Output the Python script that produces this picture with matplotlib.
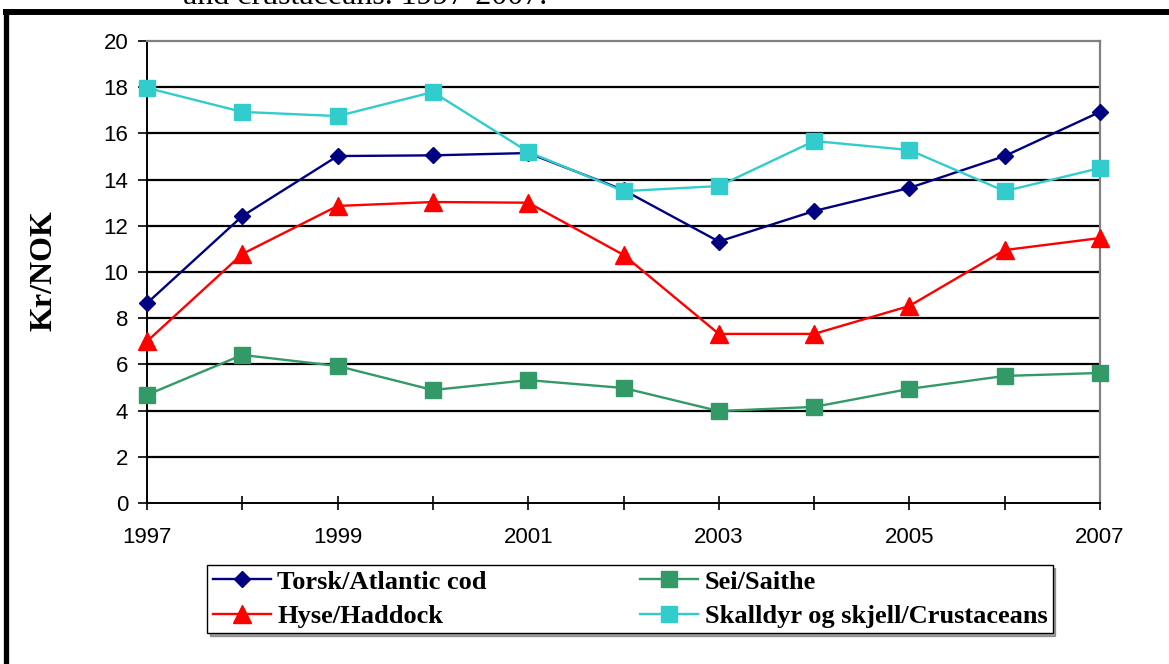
import matplotlib
matplotlib.use("Agg")
import matplotlib.pyplot as plt
from matplotlib.lines import Line2D

years = [1997, 1998, 1999, 2000, 2001, 2002, 2003, 2004, 2005, 2006, 2007]
torsk = [8.65, 12.42, 15.02, 15.05, 15.15, 13.55, 11.32, 12.64, 13.64, 15.02, 16.93]
hyse = [7.0, 10.78, 12.86, 13.03, 13.0, 10.74, 7.32, 7.32, 8.53, 10.95, 11.47]
sei = [4.68, 6.41, 5.93, 4.89, 5.32, 4.98, 3.98, 4.16, 4.94, 5.5, 5.63]
skalldyr = [17.97, 16.93, 16.75, 17.79, 15.2, 13.5, 13.72, 15.67, 15.28, 13.5, 14.5]

labels = ["Torsk/Atlantic cod", "Hyse/Haddock", "Sei/Saithe",
          "Skalldyr og skjell/Crustaceans"]
x_tick_labels = ["1997", "", "1999", "", "2001", "", "2003", "", "2005", "", "2007"]
y_ticks = [0, 2, 4, 6, 8, 10, 12, 14, 16, 18, 20]

W, H = 1169, 664
fig = plt.figure(figsize=(W / 100, H / 100), dpi=100)
fig.patch.set_facecolor("white")

L, R, T, B = 147, 1100, 41, 503
ax = fig.add_axes([L / W, (H - B) / H, (R - L) / W, (B - T) / H])

series = [
    (torsk, "#000080", "D", 8.5),
    (hyse, "#FF0000", "^", 13),
    (sei, "#339966", "s", 12),
    (skalldyr, "#33CCCC", "s", 12),
]
handles = []
for (vals, col, mk, ms), lab in zip(series, labels):
    h, = ax.plot(years, vals, color=col, lw=1.7, marker=mk, ms=ms,
                 markerfacecolor=col, markeredgecolor=col, clip_on=False,
                 zorder=3, label=lab)
    handles.append(h)

ax.set_xlim(1997, 2007)
ax.set_ylim(0, 20)
ax.set_yticks(y_ticks)
ax.set_xticks(years)
ax.set_xticklabels(x_tick_labels)

for lbl in ax.get_xticklabels() + ax.get_yticklabels():
    lbl.set_fontfamily("Liberation Sans")
    lbl.set_fontsize(16)

ax.tick_params(axis="y", direction="out", length=6.5, width=1.2,
               color="black", pad=7)
ax.tick_params(axis="x", direction="inout", length=10, width=1.2,
               color="black", pad=12)

ax.yaxis.grid(True, color="black", lw=1.6)
ax.set_axisbelow(True)
gl = ax.get_ygridlines()
gl[0].set_visible(False)
gl[-1].set_visible(False)

for side in ["left", "bottom"]:
    ax.spines[side].set_color("black")
    ax.spines[side].set_linewidth(1.4)
for side in ["top", "right"]:
    ax.spines[side].set_color("#808080")
    ax.spines[side].set_linewidth(1.6)

ax.set_ylabel("Kr/NOK", family="Liberation Serif", fontweight="bold",
              fontsize=23, va="center", ha="center", rotation=90)
ax.yaxis.set_label_coords((44 - L) / (R - L), (B - 271) / (B - T))

leg = fig.legend(handles=handles, labels=labels, ncol=2, loc="center",
                 bbox_to_anchor=(630 / W, (H - 599) / H),
                 prop=dict(family="Liberation Serif", weight="bold", size=19),
                 frameon=True, fancybox=False, shadow=True,
                 edgecolor="black", facecolor="white", framealpha=1,
                 handlelength=2.2, handletextpad=0.25, columnspacing=5.8,
                 borderpad=0.2, labelspacing=0.4)
leg.get_frame().set_linewidth(1.0)

fig.add_artist(Line2D([3 / W, 1.0], [1 - 12 / H, 1 - 12 / H], color="black",
                      lw=4.3, transform=fig.transFigure, solid_capstyle="butt"))
fig.add_artist(Line2D([5.5 / W, 5.5 / W], [1 - 9 / H, 0], color="black",
                      lw=3.8, transform=fig.transFigure, solid_capstyle="butt"))

fig.text(183 / W, 1 - 4 / H, "and crustaceans. 1997-2007.",
         family="Liberation Serif", fontsize=23, va="baseline", ha="left")

fig.savefig("out.png", dpi=100)
